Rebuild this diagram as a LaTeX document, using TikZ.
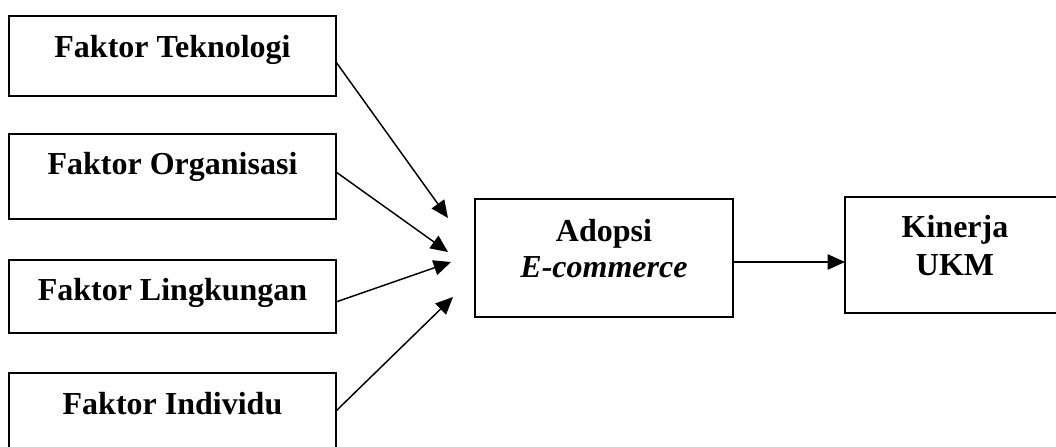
\documentclass[tikz,border=0pt]{standalone}
\usepackage{fontspec}
\setmainfont{Liberation Serif}
\usetikzlibrary{arrows.meta}
\begin{document}
\begin{tikzpicture}[x=0.75pt,y=-0.75pt,
  box/.style={draw=black,line width=1.1pt,rectangle,inner sep=0pt,outer sep=0pt,
    font=\fontsize{24}{28}\selectfont\bfseries},
  lbl/.style={inner sep=0pt,anchor=base,font=\fontsize{24}{28}\selectfont\bfseries},
  conn/.style={line width=1.1pt,-{Triangle[length=13pt,width=11.5pt]}}]
\useasboundingbox (0,0) rectangle (1056,446);
\clip (0,0) rectangle (1056,446);
% factor boxes
\node[box,minimum width=245.25pt,text height=30.75pt,text depth=29.25pt] (tek) at (172.5,56) {Faktor Teknologi};
\node[box,minimum width=245.25pt,text height=30pt,text depth=33.75pt] (org) at (172.5,176.5) {Faktor Organisasi};
\node[box,minimum width=245.25pt,text height=30pt,text depth=24.75pt] (lin) at (172.5,296.5) {Faktor Lingkungan};
\node[box,minimum width=245.25pt,text height=30.75pt,text depth=30.75pt] (ind) at (172.5,414) {Faktor Individu};
% adoption box
\node[box,minimum width=193.5pt,minimum height=88.5pt] (ado) at (604,258) {};
\node[lbl] (adot1) at (604,241) {Adopsi};
\node[lbl] (adot2) at (604,277) {\textit{E-commerce}};
% performance box
\node[box,minimum width=165pt,minimum height=87pt] (kin) at (955,255) {};
\node[lbl] (kint1) at (955,237) {Kinerja};
\node[lbl] (kint2) at (955,275) {UKM};
% arrow tips
\coordinate (tip1) at (448,218);
\coordinate (tip2) at (448,252);
\coordinate (tip3) at (451,262);
\coordinate (tip4) at (453,297);
\draw[conn] ([yshift=-4.5pt]tek.east) -- (tip1);
\draw[conn] ([yshift=3.4pt]org.east) -- (tip2);
\draw[conn] ([yshift=-4.1pt]lin.east) -- (tip3);
\draw[conn] ([yshift=2.25pt]ind.east) -- (tip4);
\draw[conn] ([yshift=-3pt]ado.east) -- ([yshift=-3pt]ado.east -| kin.west);
\end{tikzpicture}
\end{document}
